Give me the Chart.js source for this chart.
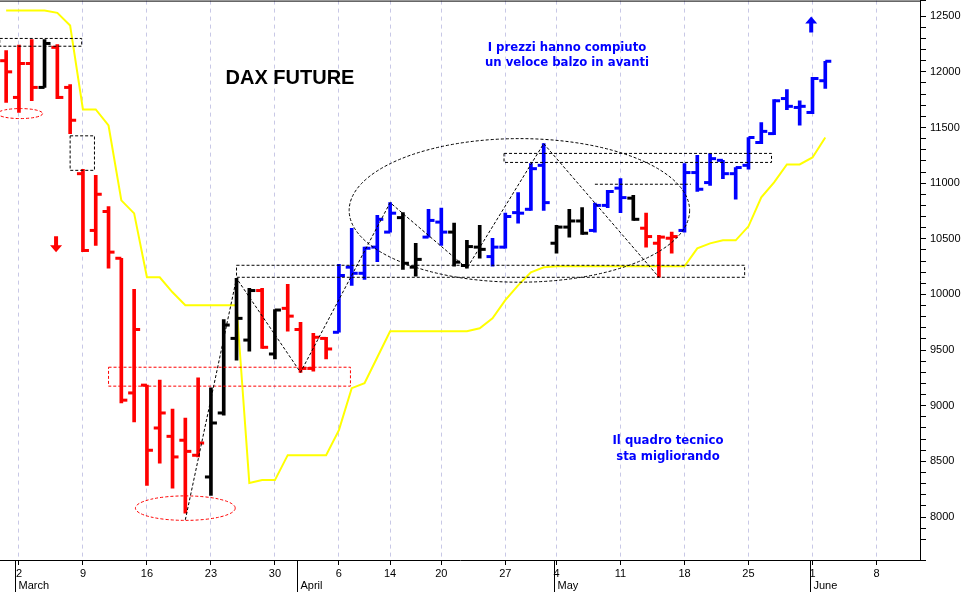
<!DOCTYPE html>
<html lang="it">
<head>
<meta charset="UTF-8" />
<title>DAX Future</title>
<script src="https://cdn.jsdelivr.net/npm/chart.js"></script>
<style>
  body { margin: 0; background: #fff; overflow: hidden; }
  #wrap { width: 970px; height: 602px; margin-top: -10px; }
</style>
</head>
<body>
<div id="wrap"><canvas id="dax"></canvas></div>
<script>
// trading day index, 0 = 2 March
const days = [];
for (let i = -1; i <= 63; i++) days.push(i);

const highs = [12190,12240,12290,12290,12245,11885,11125,11070,10790,10325,10045,9185,9230,8970,8890,9250,
  9160,9775,10145,10055,10055,9865,10090,9750,9650,9615,10270,10595,10425,10710,10825,10735,10460,10765,10775,
  10640,10485,10620,10505,10730,10915,11175,11355,10620,10765,10780,10820,10935,11040,10890,10730,10530,10560,
  11175,11250,11265,11205,11140,11410,11545,11750,11840,11740,11950,12095];
const lows = [11725,11635,11740,11860,11760,11445,10385,10440,10235,9025,8855,8285,8485,8260,8035,8540,
  8195,8915,9410,9490,9515,9420,9670,9300,9310,9420,9660,10080,10135,10295,10560,10225,10165,10515,10440,
  10255,10235,10325,10255,10415,10640,10755,10755,10370,10515,10540,10560,10780,10735,10665,10425,10155,10370,
  10560,10925,10980,11040,10855,11125,11355,11435,11660,11520,11625,11850];
const opens = [12100,11770,12075,11860,12220,11860,11085,10575,10745,10325,9115,9185,8800,8725,8690,8555,
  8360,8935,9605,9590,10035,9465,9875,9685,9335,9605,9660,10245,10190,10425,10560,10690,10245,10515,10650,
  10560,10260,10425,10340,10425,10735,10765,11160,10460,10605,10660,10575,10800,10955,10865,10595,10460,10505,
  10575,11095,11005,11205,11085,11160,11365,11445,11760,11680,11635,11920];
const closes = [12000,12075,11860,12255,11770,11565,10395,10900,10380,9050,9685,8600,8935,8540,8590,8665,
  8845,9725,9785,10035,9525,9860,9805,9335,9615,9510,10170,10190,10415,10675,10730,10280,10315,10665,10560,
  10290,10430,10405,10425,10700,10730,11130,10825,10605,10660,10550,10800,10925,10870,10675,10520,10515,10520,
  11095,10945,11220,11085,11140,11410,11465,11740,11690,11690,11940,12095];
// r = red, k = black, b = blue
const trend = 'rrrkrrrrrrrrrrrrkkkkrkrrrrbbbbbkkbbkkkbbbbbkkkbbbkrrrbbbbbbbbbbbb';

const stopLine = [12550,12550,12550,12550,12530,12416,11662,11662,11518,10845,10728,10154,10154,10019,9903,9903,
  9903,9903,9903,8305,8332,8332,8556,8556,8556,8556,8781,9158,9203,9436,9669,9669,9669,9669,9669,9669,9669,
  9696,9786,9948,10082,10199,10244,10253,10253,10253,10253,10253,10253,10253,10253,10253,10253,10253,10414,
  10459,10486,10486,10612,10872,11007,11168,11168,11231,11410];

const weekTicks = [0,5,10,15,20,25,29,33,38,42,47,52,57,62,67];
const weekLabels = ['2','9','16','23','30','6','14','20','27','4','11','18','25','1','8'];
const monthAt = [-0.3, 21.7, 41.8, 61.8];
const monthNames = ['March','April','May','June'];

const colorOf = c => c === 'r' ? '#ff0000' : c === 'b' ? '#0000ff' : '#000000';
const barColors = days.map((d, i) => colorOf(trend[i]));

const ohlcTicks = {
  id: 'ohlcTicks',
  afterDatasetsDraw(chart) {
    const { ctx, scales: { x, y } } = chart;
    ctx.save();
    ctx.lineWidth = 3;
    days.forEach((d, i) => {
      const px = x.getPixelForValue(d);
      ctx.strokeStyle = barColors[i];
      let py = y.getPixelForValue(opens[i]);
      ctx.beginPath(); ctx.moveTo(px - 6, py); ctx.lineTo(px, py); ctx.stroke();
      py = y.getPixelForValue(closes[i]);
      ctx.beginPath(); ctx.moveTo(px, py); ctx.lineTo(px + 6, py); ctx.stroke();
    });
    ctx.restore();
  }
};

// dashed boxes, ellipses, trend lines, texts (index / price coordinates)
const boxes = [
  { x0: -1.5, x1: 4.9, y0: 12230, y1: 12300, c: '#000' },
  { x0: 4.0, x1: 5.9, y0: 11115, y1: 11425, c: '#000' },
  { x0: 7.0, x1: 25.9, y0: 9176, y1: 9346, c: '#ff0000' },
  { x0: 17.0, x1: 56.7, y0: 10154, y1: 10262, c: '#000' },
  { x0: 37.9, x1: 58.8, y0: 11186, y1: 11267, c: '#000' }
];
const ellipses = [
  { cx: 0.1, cy: 11625, rx: 1.75, ry: 45, c: '#ff0000' },
  { cx: 13.0, cy: 8080, rx: 3.9, ry: 110, c: '#ff0000' },
  { cx: 39.1, cy: 10755, rx: 13.3, ry: 645, c: '#000' }
];
const zigzag = [[13.0, 7975], [17.0, 10145], [22.0, 9300], [29.0, 10825], [35.0, 10235], [41.0, 11355], [50.0, 10155]];

const annotations = {
  id: 'annotations',
  afterDraw(chart) {
    const { ctx, chartArea: a, scales: { x, y } } = chart;
    const X = v => x.getPixelForValue(v), Y = v => y.getPixelForValue(v);
    ctx.save();
    ctx.beginPath(); ctx.rect(a.left, a.top, a.right - a.left, a.bottom - a.top); ctx.clip();
    ctx.lineWidth = 1;
    ctx.setLineDash([3, 2]);
    boxes.forEach(b => {
      ctx.strokeStyle = b.c;
      ctx.strokeRect(X(b.x0), Y(b.y1), X(b.x1) - X(b.x0), Y(b.y0) - Y(b.y1));
    });
    ellipses.forEach(e => {
      ctx.strokeStyle = e.c;
      ctx.beginPath();
      ctx.ellipse(X(e.cx), Y(e.cy), X(e.cx + e.rx) - X(e.cx), Y(e.cy) - Y(e.cy + e.ry), 0, 0, Math.PI * 2);
      ctx.stroke();
    });
    ctx.strokeStyle = '#000';
    ctx.beginPath();
    zigzag.forEach((p, k) => k ? ctx.lineTo(X(p[0]), Y(p[1])) : ctx.moveTo(X(p[0]), Y(p[1])));
    ctx.stroke();
    ctx.beginPath(); ctx.moveTo(X(45), Y(10990)); ctx.lineTo(X(52.5), Y(10990)); ctx.stroke();
    ctx.setLineDash([]);
    ctx.restore();

    // arrows
    const arrow = (px, py, dir, col) => {
      ctx.fillStyle = col;
      ctx.beginPath();
      if (dir > 0) {
        ctx.moveTo(px, py - 8); ctx.lineTo(px + 6, py - 1); ctx.lineTo(px + 2, py - 1); ctx.lineTo(px + 2, py + 8);
        ctx.lineTo(px - 2, py + 8); ctx.lineTo(px - 2, py - 1); ctx.lineTo(px - 6, py - 1);
      } else {
        ctx.moveTo(px, py + 8); ctx.lineTo(px + 6, py + 1); ctx.lineTo(px + 2, py + 1); ctx.lineTo(px + 2, py - 8);
        ctx.lineTo(px - 2, py - 8); ctx.lineTo(px - 2, py + 1); ctx.lineTo(px - 6, py + 1);
      }
      ctx.closePath(); ctx.fill();
    };
    arrow(X(2.9), Y(10450), -1, '#ff0000');
    arrow(X(61.9), Y(12425), 1, '#0000ff');

    ctx.textAlign = 'center';
    ctx.textBaseline = 'middle';
    ctx.fillStyle = '#000';
    ctx.font = 'bold 20px "Liberation Sans", Arial, sans-serif';
    ctx.fillText('DAX FUTURE', 290, a.top + 78);
    ctx.fillStyle = '#0000ff';
    ctx.font = 'bold 13px "Liberation Sans Narrow", "DejaVu Sans Condensed", sans-serif';
    ctx.fillText('I prezzi hanno compiuto', 567, a.top + 47);
    ctx.fillText('un veloce balzo in avanti', 567, a.top + 62);
    ctx.fillText('Il quadro tecnico', 668, a.top + 440);
    ctx.fillText('sta migliorando', 668, a.top + 456);

    // top frame
    ctx.strokeStyle = '#000';
    ctx.lineWidth = 1;
    ctx.beginPath(); ctx.moveTo(a.left, a.top + 0.5); ctx.lineTo(a.right, a.top + 0.5); ctx.stroke();

    // month band
    ctx.textAlign = 'left';
    ctx.fillStyle = '#000';
    ctx.font = '11px "Liberation Sans", Arial, sans-serif';
    monthAt.forEach((m, k) => {
      const px = Math.round(X(m)) + 0.5;
      ctx.beginPath(); ctx.moveTo(px, a.bottom); ctx.lineTo(px, a.bottom + 32); ctx.stroke();
      ctx.fillText(monthNames[k], px + 3, a.bottom + 26);
    });
  }
};

new Chart(document.getElementById('dax'), {
  data: {
    datasets: [
      {
        type: 'line',
        data: days.map((d, i) => ({ x: d, y: stopLine[i] })),
        borderColor: '#ffff00',
        borderWidth: 2,
        pointRadius: 0,
        tension: 0,
        order: 2
      },
      {
        type: 'bar',
        data: days.map((d, i) => ({ x: d, y: [lows[i], highs[i]] })),
        backgroundColor: barColors,
        barThickness: 3,
        borderSkipped: false,
        order: 1
      }
    ]
  },
  options: {
    responsive: true,
    maintainAspectRatio: false,
    animation: false,
    layout: { padding: 0 },
    plugins: { legend: { display: false }, tooltip: { enabled: false } },
    scales: {
      x: {
        type: 'linear',
        min: -1.48,
        max: 70.4,
        offset: false,
        afterBuildTicks: s => { s.ticks = weekTicks.map(v => ({ value: v })); },
        afterFit: s => { s.height = 32; },
        ticks: {
          autoSkip: false,
          maxRotation: 0,
          color: '#000',
          font: { size: 11, family: '"Liberation Sans", Arial, sans-serif' },
          padding: 2,
          callback: (v) => weekLabels[weekTicks.indexOf(v)]
        },
        grid: { offset: false, color: '#c8c8e6', tickLength: 5, tickColor: '#000' },
        border: { color: '#000', dash: [4, 4], display: true }
      },
      y: {
        position: 'right',
        min: 7614,
        max: 12640,
        afterFit: s => { s.width = 50; },
        ticks: {
          stepSize: 100,
          autoSkip: false,
          color: '#000',
          font: { size: 11, family: '"Liberation Sans", Arial, sans-serif' },
          padding: 4,
          callback: v => (v % 500 === 0 ? v : '')
        },
        grid: { drawOnChartArea: false, tickLength: 6, color: '#000' },
        border: { color: '#000' }
      }
    }
  },
  plugins: [ohlcTicks, annotations]
});
</script>
</body>
</html>
